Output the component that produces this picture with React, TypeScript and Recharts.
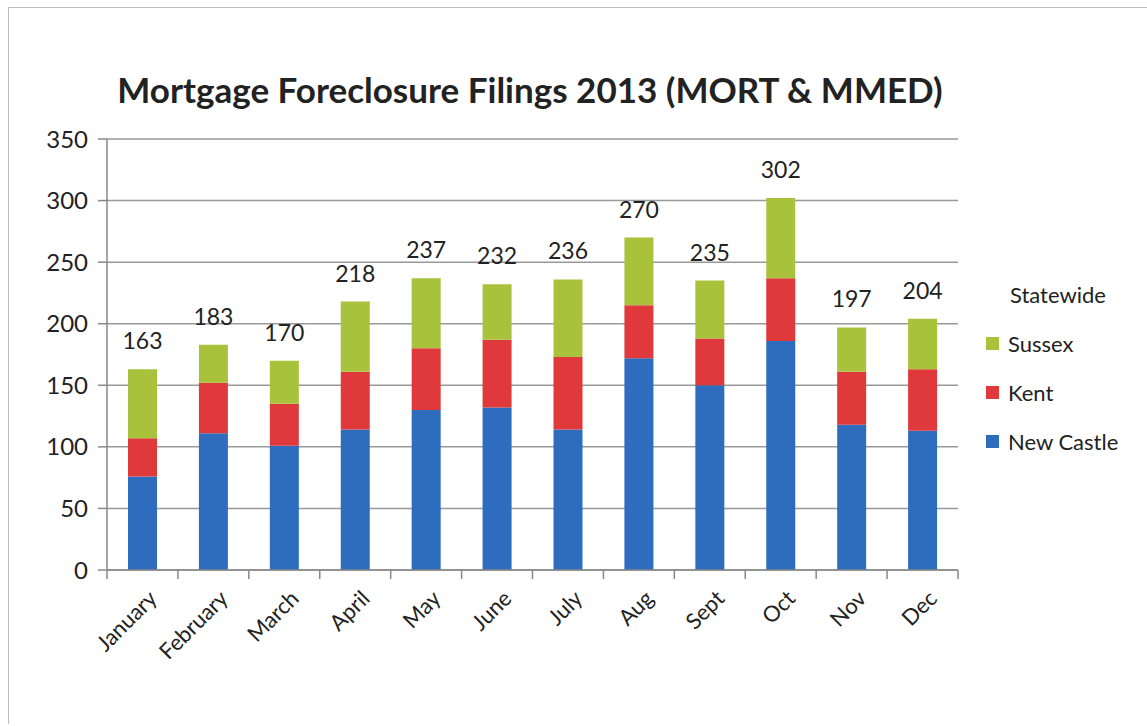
import React from 'react';
import { BarChart, Bar, XAxis, YAxis, CartesianGrid, LabelList } from 'recharts';

const months = ['January', 'February', 'March', 'April', 'May', 'June', 'July', 'Aug', 'Sept', 'Oct', 'Nov', 'Dec'];
const newCastle = [76, 111, 101, 114, 130, 132, 114, 172, 150, 186, 118, 113];
const kent = [31, 41, 34, 47, 50, 55, 59, 43, 38, 51, 43, 50];
const sussex = [56, 31, 35, 57, 57, 45, 63, 55, 47, 65, 36, 41];
const totals = [163, 183, 170, 218, 237, 232, 236, 270, 235, 302, 197, 204];
const yTicks = [0, 50, 100, 150, 200, 250, 300, 350];

const series = [
  { key: 'Sussex', color: '#A9C23B' },
  { key: 'Kent', color: '#E0393B' },
  { key: 'New Castle', color: '#2E6DBD' },
];

const data = months.map((m, i) => ({
  month: m,
  'New Castle': newCastle[i],
  Kent: kent[i],
  Sussex: sussex[i],
  total: totals[i],
}));

const W = 1147;
const H = 726;
const FONT = 'Lato, "Open Sans", sans-serif';
const margin = { top: 139, right: 189, bottom: 56, left: 40 };
const yAxisWidth = 67;
const plotWidth = W - margin.left - margin.right - yAxisWidth;
const band = plotWidth / months.length;

// rotated month label + boundary tick mark like Excel
const MonthTick = (props: any) => {
  const { x, y, payload, index } = props;
  const left = x - band / 2;
  return (
    <g>
      <line x1={left} y1={y - 8} x2={left} y2={y + 1} stroke="#888" strokeWidth={1.5} />
      {index === months.length - 1 && (
        <line x1={x + band / 2} y1={y - 8} x2={x + band / 2} y2={y + 1} stroke="#888" strokeWidth={1.5} />
      )}
      <text
        x={x + 12}
        y={y + 18}
        transform={`rotate(-45, ${x + 12}, ${y + 18})`}
        textAnchor="end"
        dominantBaseline="middle"
        fontSize={22}
        fontFamily={FONT}
        fill="#222"
      >
        {payload.value}
      </text>
    </g>
  );
};

const TotalLabel = (props: any) => {
  const { x, y, width, index } = props;
  return (
    <text
      x={x + width / 2}
      y={y - 20}
      textAnchor="middle"
      fontSize={23}
      fontFamily={FONT}
      fill="#222"
    >
      {totals[index]}
    </text>
  );
};

const LegendBox = () => (
  <div style={{ position: 'absolute', left: 986, top: 281, fontFamily: FONT, color: '#222', fontSize: 22 }}>
    <div style={{ marginLeft: 24, marginBottom: 11 }}>Statewide</div>
    {series.map((s) => (
      <div key={s.key} style={{ display: 'flex', alignItems: 'center', height: 49 }}>
        <span style={{ width: 13, height: 13, background: s.color, display: 'inline-block', marginRight: 9 }} />
        {s.key}
      </div>
    ))}
  </div>
);

export default function App() {
  return (
    <div style={{ position: 'absolute', left: 0, top: 0, width: W, height: H, background: '#fff' }}>
      <div style={{ position: 'absolute', left: 8, top: 7, width: W - 9, height: H - 10, borderLeft: '1px solid #bbb', borderTop: '1px solid #bbb' }} />
      <div
        style={{
          position: 'absolute',
          left: 0,
          width: 1060,
          top: 68,
          textAlign: 'center',
          fontFamily: FONT,
          fontWeight: 700,
          fontSize: 35,
          color: '#222',
        }}
      >
        Mortgage Foreclosure Filings 2013 (MORT &amp; MMED)
      </div>
      <BarChart width={W} height={H} data={data} margin={margin} barSize={29} style={{ position: 'absolute', left: 0, top: 0 }}>
        <CartesianGrid vertical={false} stroke="#999" strokeWidth={1.5} />
        <XAxis
          dataKey="month"
          interval={0}
          height={100}
          tick={<MonthTick />}
          tickLine={false}
          axisLine={{ stroke: '#888', strokeWidth: 1.5 }}
        />
        <YAxis
          width={yAxisWidth}
          domain={[0, 350]}
          ticks={yTicks}
          interval={0}
          tickSize={9}
          tickMargin={10}
          tick={{ fontSize: 24, fontFamily: FONT, fill: '#222' }}
          tickLine={{ stroke: '#888', strokeWidth: 1.5 }}
          axisLine={{ stroke: '#888', strokeWidth: 1.5 }}
        />
        <Bar dataKey="New Castle" stackId="a" fill="#2E6DBD" isAnimationActive={false} />
        <Bar dataKey="Kent" stackId="a" fill="#E0393B" isAnimationActive={false} />
        <Bar dataKey="Sussex" stackId="a" fill="#A9C23B" isAnimationActive={false}>
          <LabelList dataKey="total" content={<TotalLabel />} />
        </Bar>
      </BarChart>
      <LegendBox />
    </div>
  );
}
